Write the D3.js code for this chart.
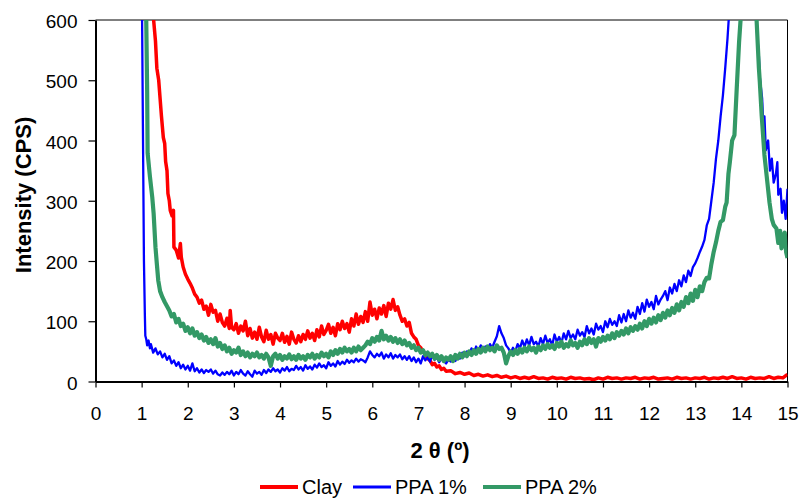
<!DOCTYPE html>
<html>
<head>
<meta charset="utf-8">
<script src="https://cdn.jsdelivr.net/npm/d3@7"></script>
<style>
  body { margin: 0; background: #fff; }
  svg { display: block; font-family: "Liberation Sans", Arial, sans-serif; }
</style>
</head>
<body>
<div class="chart"></div>
<script>
// tick values
const xTicks = [0,1,2,3,4,5,6,7,8,9,10,11,12,13,14,15];
const yTicks = [0,100,200,300,400,500,600];

const seriesNames = ["Clay", "PPA 1%", "PPA 2%"];
const seriesColors = ["#ff0000", "#0000ff", "#339966"];

// [2 theta, intensity]
const clayData = [
[1.20,720],[1.26,600],[1.30,565],[1.33,520],[1.37,500],[1.40,470],[1.43,440],[1.47,405],[1.50,395],[1.52,365],
[1.55,350],[1.57,312],[1.60,300],[1.62,284],[1.66,275],[1.69,284],[1.70,223],[1.75,218],[1.80,205],[1.84,229],
[1.86,206],[1.90,190],[1.95,178],[2.00,170],[2.05,163],[2.10,155],[2.15,145],[2.20,140],[2.25,130],[2.30,135],
[2.35,120],[2.40,125],[2.45,110],[2.50,128],[2.55,115],[2.60,118],[2.65,100],[2.70,112],[2.75,98],[2.80,92],
[2.85,105],[2.90,88],[2.92,118],[2.95,90],[3.00,86],[3.05,96],[3.10,80],[3.15,92],[3.20,84],[3.25,100],
[3.30,76],[3.35,88],[3.40,72],[3.45,82],[3.50,70],[3.55,90],[3.60,74],[3.65,66],[3.70,85],[3.75,70],
[3.80,78],[3.85,62],[3.90,80],[3.95,72],[4.00,68],[4.05,80],[4.10,65],[4.15,75],[4.20,62],[4.25,82],
[4.30,70],[4.35,64],[4.40,76],[4.45,66],[4.50,78],[4.55,70],[4.60,84],[4.65,72],[4.70,80],[4.75,68],
[4.80,86],[4.85,74],[4.90,92],[4.95,78],[5.00,85],[5.05,95],[5.10,80],[5.15,90],[5.20,76],[5.25,96],
[5.30,86],[5.35,100],[5.40,88],[5.45,96],[5.50,82],[5.55,104],[5.60,92],[5.65,112],[5.70,95],[5.75,108],
[5.80,98],[5.85,116],[5.90,100],[5.95,132],[6.00,110],[6.05,120],[6.10,104],[6.15,122],[6.20,112],[6.25,126],
[6.30,108],[6.35,130],[6.40,120],[6.45,136],[6.50,118],[6.55,124],[6.60,110],[6.65,100],[6.70,104],[6.75,92],
[6.80,98],[6.85,80],[6.90,74],[6.95,70],[7.00,60],[7.05,56],[7.10,50],[7.15,45],[7.20,38],[7.25,35],
[7.30,28],[7.35,30],[7.40,24],[7.45,26],[7.50,20],[7.55,22],[7.60,17],[7.70,18],[7.80,13],[7.90,15],
[8.00,12],[8.10,14],[8.20,10],[8.30,12],[8.40,9],[8.50,11],[8.60,8],[8.70,10],[8.80,7],[8.90,9],
[9.0,6],[9.1,8],[9.2,5],[9.3,7],[9.4,5],[9.5,8],[9.6,5],[9.7,6],[9.8,4],[9.9,7],
[10.0,5],[10.1,6],[10.2,4],[10.3,7],[10.4,5],[10.5,6],[10.6,4],[10.7,5],[10.8,3],[10.9,6],
[11.0,4],[11.1,7],[11.2,5],[11.3,6],[11.4,4],[11.5,6],[11.6,5],[11.7,7],[11.8,4],[11.9,6],
[12.0,5],[12.1,7],[12.2,4],[12.3,5],[12.4,6],[12.5,4],[12.6,7],[12.7,5],[12.8,6],[12.9,4],
[13.0,6],[13.1,5],[13.2,7],[13.3,4],[13.4,6],[13.5,5],[13.6,7],[13.7,5],[13.8,8],[13.9,5],
[14.0,6],[14.1,4],[14.2,7],[14.3,5],[14.4,6],[14.5,5],[14.6,8],[14.7,5],[14.8,7],[14.9,6],
[14.95,9],[15.0,12]
];

const ppa1Data = [
[1.00,720],[1.01,600],[1.03,400],[1.05,200],[1.07,110],[1.08,76],[1.10,70],[1.12,60],[1.15,68],[1.18,55],
[1.20,62],[1.25,48],[1.30,55],[1.35,45],[1.40,50],[1.45,40],[1.50,46],[1.55,36],[1.60,42],[1.65,30],
[1.70,35],[1.75,26],[1.80,32],[1.85,22],[1.90,28],[1.95,20],[2.00,26],[2.05,18],[2.10,30],[2.15,17],
[2.20,22],[2.25,15],[2.30,20],[2.35,14],[2.40,19],[2.45,16],[2.50,20],[2.55,13],[2.60,18],[2.65,12],
[2.70,10],[2.75,15],[2.80,11],[2.85,16],[2.90,12],[2.95,18],[3.00,10],[3.05,16],[3.10,12],[3.15,19],
[3.20,13],[3.25,10],[3.30,17],[3.35,12],[3.40,8],[3.45,18],[3.50,13],[3.55,16],[3.60,11],[3.65,19],
[3.70,14],[3.75,20],[3.80,16],[3.85,22],[3.90,17],[3.95,20],[4.00,15],[4.05,22],[4.10,18],[4.15,24],
[4.20,17],[4.25,21],[4.30,19],[4.35,26],[4.40,20],[4.45,24],[4.50,18],[4.55,27],[4.60,21],[4.65,25],
[4.70,20],[4.75,28],[4.80,23],[4.85,30],[4.90,24],[4.95,27],[5.00,22],[5.05,32],[5.10,26],[5.15,30],
[5.20,25],[5.25,34],[5.30,28],[5.35,33],[5.40,29],[5.45,36],[5.50,31],[5.55,35],[5.60,32],[5.65,38],
[5.70,33],[5.75,37],[5.80,35],[5.85,32],[5.90,40],[5.95,50],[6.00,44],[6.05,40],[6.10,46],[6.15,42],
[6.20,48],[6.25,38],[6.30,45],[6.35,40],[6.40,47],[6.45,38],[6.50,44],[6.55,40],[6.60,45],[6.65,37],
[6.70,42],[6.75,36],[6.80,42],[6.85,34],[6.90,40],[6.95,32],[7.00,38],[7.05,30],[7.10,42],[7.15,35],
[7.20,40],[7.25,33],[7.30,44],[7.35,36],[7.40,40],[7.45,32],[7.50,38],[7.55,34],[7.60,30],[7.65,36],
[7.70,33],[7.75,38],[7.80,34],[7.85,44],[7.90,38],[7.95,48],[8.00,42],[8.05,50],[8.10,45],[8.15,55],
[8.20,48],[8.25,58],[8.30,50],[8.35,60],[8.40,52],[8.45,58],[8.50,54],[8.55,62],[8.60,56],[8.65,66],
[8.70,75],[8.75,92],[8.80,80],[8.85,72],[8.90,60],[8.95,55],[9.00,48],[9.05,56],[9.10,50],[9.15,62],
[9.20,55],[9.25,68],[9.30,58],[9.35,70],[9.40,60],[9.45,74],[9.50,62],[9.55,66],[9.60,58],[9.65,72],
[9.70,62],[9.75,76],[9.80,64],[9.85,70],[9.90,60],[9.95,78],[10.00,66],[10.05,74],[10.10,64],[10.15,80],
[10.20,70],[10.25,84],[10.30,72],[10.35,78],[10.40,70],[10.45,86],[10.50,76],[10.55,82],[10.60,74],[10.65,92],
[10.70,80],[10.75,88],[10.80,78],[10.85,96],[10.90,86],[10.95,92],[11.00,82],[11.05,100],[11.10,90],[11.15,104],
[11.20,94],[11.25,100],[11.30,92],[11.35,110],[11.40,98],[11.45,112],[11.50,100],[11.55,118],[11.60,106],[11.65,114],
[11.70,104],[11.75,124],[11.80,112],[11.85,130],[11.90,116],[11.95,136],[12.00,124],[12.05,132],[12.10,120],[12.15,142],
[12.20,128],[12.25,136],[12.30,142],[12.35,150],[12.40,135],[12.45,156],[12.50,146],[12.55,162],[12.60,150],[12.65,168],
[12.70,158],[12.75,176],[12.80,165],[12.85,184],[12.90,175],[12.95,190],[13.00,196],[13.05,205],[13.10,215],[13.15,224],
[13.20,235],[13.25,259],[13.30,270],[13.35,300],[13.40,330],[13.45,370],[13.50,400],[13.55,440],[13.60,475],[13.65,520],
[13.70,570],[13.75,630],[13.85,700],[14.00,760],[14.20,720],[14.30,620],[14.33,588],[14.38,540],[14.40,505],[14.45,470],
[14.48,420],[14.50,440],[14.53,384],[14.58,400],[14.62,350],[14.66,370],[14.70,330],[14.75,345],[14.78,364],[14.80,310],
[14.85,320],[14.88,280],[14.92,300],[14.96,270],[15.00,320]
];

const ppa2Data = [
[1.05,720],[1.10,600],[1.12,480],[1.13,379],[1.18,340],[1.23,306],[1.26,279],[1.30,223],[1.33,195],[1.36,168],
[1.40,150],[1.45,140],[1.50,132],[1.55,125],[1.60,118],[1.65,108],[1.70,112],[1.75,98],[1.80,104],[1.85,92],
[1.90,96],[1.95,84],[2.00,90],[2.05,80],[2.10,88],[2.15,76],[2.20,82],[2.25,72],[2.30,78],[2.35,68],
[2.40,74],[2.45,64],[2.50,70],[2.55,62],[2.60,72],[2.65,58],[2.70,64],[2.75,54],[2.80,60],[2.85,50],
[2.90,56],[2.95,46],[3.00,52],[3.05,48],[3.10,56],[3.15,44],[3.20,50],[3.25,42],[3.30,48],[3.35,40],
[3.40,46],[3.45,42],[3.50,48],[3.55,40],[3.60,44],[3.65,38],[3.70,46],[3.75,40],[3.80,26],[3.85,42],
[3.90,46],[3.95,38],[4.00,44],[4.05,36],[4.10,42],[4.15,38],[4.20,45],[4.25,37],[4.30,42],[4.35,36],
[4.40,44],[4.45,38],[4.50,42],[4.55,36],[4.60,44],[4.65,40],[4.70,46],[4.75,38],[4.80,44],[4.85,40],
[4.90,48],[4.95,42],[5.00,46],[5.05,40],[5.10,50],[5.15,44],[5.20,52],[5.25,46],[5.30,54],[5.35,48],
[5.40,56],[5.45,50],[5.50,54],[5.55,48],[5.60,56],[5.65,50],[5.70,58],[5.75,52],[5.80,56],[5.85,60],
[5.90,66],[5.95,62],[6.00,72],[6.05,66],[6.10,74],[6.15,68],[6.20,84],[6.25,70],[6.30,76],[6.35,68],
[6.40,74],[6.45,66],[6.50,72],[6.55,64],[6.60,70],[6.65,62],[6.70,68],[6.75,60],[6.80,64],[6.85,56],
[6.90,60],[6.95,52],[7.00,56],[7.05,48],[7.10,52],[7.15,44],[7.20,48],[7.25,42],[7.30,46],[7.35,38],
[7.40,44],[7.45,36],[7.50,42],[7.55,34],[7.60,40],[7.65,36],[7.70,42],[7.75,34],[7.80,44],[7.85,38],
[7.90,46],[7.95,40],[8.00,48],[8.05,42],[8.10,50],[8.15,44],[8.20,52],[8.25,46],[8.30,54],[8.35,48],
[8.40,56],[8.45,50],[8.50,58],[8.55,52],[8.60,56],[8.65,50],[8.70,60],[8.75,54],[8.80,56],[8.85,48],
[8.90,30],[8.95,42],[9.00,50],[9.05,44],[9.10,52],[9.15,46],[9.20,54],[9.25,48],[9.30,56],[9.35,50],
[9.40,58],[9.45,52],[9.50,56],[9.55,48],[9.60,58],[9.65,52],[9.70,60],[9.75,54],[9.80,62],[9.85,56],
[9.90,60],[9.95,54],[10.00,64],[10.05,58],[10.10,66],[10.15,56],[10.20,62],[10.25,58],[10.30,68],[10.35,60],
[10.40,64],[10.45,56],[10.50,66],[10.55,60],[10.60,70],[10.65,62],[10.70,72],[10.75,64],[10.80,70],[10.85,58],
[10.90,72],[10.95,66],[11.00,74],[11.05,68],[11.10,76],[11.15,70],[11.20,80],[11.25,72],[11.30,82],[11.35,76],
[11.40,84],[11.45,78],[11.50,88],[11.55,80],[11.60,90],[11.65,84],[11.70,92],[11.75,86],[11.80,96],[11.85,88],
[11.90,100],[11.95,92],[12.00,104],[12.05,96],[12.10,106],[12.15,98],[12.20,110],[12.25,102],[12.30,114],[12.35,106],
[12.40,118],[12.45,110],[12.50,122],[12.55,114],[12.60,128],[12.65,118],[12.70,132],[12.75,124],[12.80,140],[12.85,130],
[12.90,146],[12.95,134],[13.00,152],[13.05,140],[13.10,158],[13.15,150],[13.20,165],[13.25,172],[13.30,171],[13.35,195],
[13.40,215],[13.45,231],[13.50,250],[13.55,265],[13.60,268],[13.65,290],[13.68,297],[13.72,345],[13.75,364],[13.80,400],
[13.85,409],[13.90,487],[13.95,563],[14.00,620],[14.15,720],[14.30,640],[14.33,600],[14.38,520],[14.40,497],[14.44,442],
[14.50,376],[14.55,340],[14.61,297],[14.66,270],[14.70,260],[14.76,254],[14.80,230],[14.84,250],[14.87,221],[14.90,240],
[14.94,247],[14.97,215],[15.00,205]
];

const seriesData = [clayData, ppa1Data, ppa2Data];
const seriesWidths = [3.5, 2.3, 4.2];

const W = 801, H = 500;
const svg = d3.select(".chart").append("svg")
    .attr("width", W)
    .attr("height", H);

const xScale = d3.scaleLinear().domain([0, 15]).range([95.5, 787.5]);
const yScale = d3.scaleLinear().domain([0, 600]).range([381.5, 20]);

// clip lines to the plot box
svg.append("clipPath").attr("id", "plotclip")
  .append("rect")
    .attr("x", xScale(0)).attr("y", yScale(600))
    .attr("width", xScale(15) - xScale(0))
    .attr("height", yScale(0) - yScale(600));

// thin top and right frame
svg.append("path")
    .attr("d", `M${xScale(0)},${yScale(600)}H${xScale(15)}V${yScale(0)}`)
    .attr("fill", "none")
    .attr("stroke", "#000")
    .attr("stroke-width", 1);

const line = d3.line()
    .x(d => xScale(d[0]))
    .y(d => yScale(d[1]));

svg.append("g")
    .attr("clip-path", "url(#plotclip)")
  .selectAll("path")
  .data(seriesData)
  .join("path")
    .attr("fill", "none")
    .attr("stroke", (d, i) => seriesColors[i])
    .attr("stroke-width", (d, i) => seriesWidths[i])
    .attr("stroke-linejoin", "round")
    .attr("d", line);

// axes
const yAxis = svg.append("g")
    .attr("transform", `translate(${xScale(0)},0)`)
    .call(d3.axisLeft(yScale).tickValues(yTicks).tickSize(7).tickSizeOuter(0).tickPadding(11));

const xAxis = svg.append("g")
    .attr("transform", `translate(0,${yScale(0)})`)
    .call(d3.axisBottom(xScale).tickValues(xTicks).tickSize(6).tickSizeOuter(0).tickPadding(19));

[xAxis, yAxis].forEach(g => {
  g.select(".domain").attr("stroke-width", 2);
  g.selectAll(".tick line").attr("stroke-width", 1.2);
  g.selectAll("text")
    .attr("font-family", "Liberation Sans, Arial, sans-serif")
    .attr("font-size", 19)
    .attr("fill", "#000");
});
yAxis.selectAll("text").attr("dy", "0.4em");

// axis titles
svg.append("text")
    .attr("x", 440)
    .attr("y", 458)
    .attr("text-anchor", "middle")
    .attr("font-weight", "bold")
    .attr("font-size", 22)
    .text("2 θ (º)");

svg.append("text")
    .attr("transform", "translate(31,195) rotate(-90)")
    .attr("text-anchor", "middle")
    .attr("font-weight", "bold")
    .attr("font-size", 22)
    .text("Intensity (CPS)");

// legend
const legendX = [260, 353, 483];
const legendWidths = [4, 3, 4];
const legend = svg.append("g")
  .selectAll("g")
  .data(seriesNames)
  .join("g")
    .attr("transform", (d, i) => `translate(${legendX[i]},487)`);

legend.append("line")
    .attr("x1", 0).attr("x2", 38)
    .attr("stroke", (d, i) => seriesColors[i])
    .attr("stroke-width", (d, i) => legendWidths[i]);

legend.append("text")
    .attr("x", 42)
    .attr("y", 7)
    .attr("font-size", 20)
    .attr("fill", "#000")
    .text(d => d);
</script>
</body>
</html>
